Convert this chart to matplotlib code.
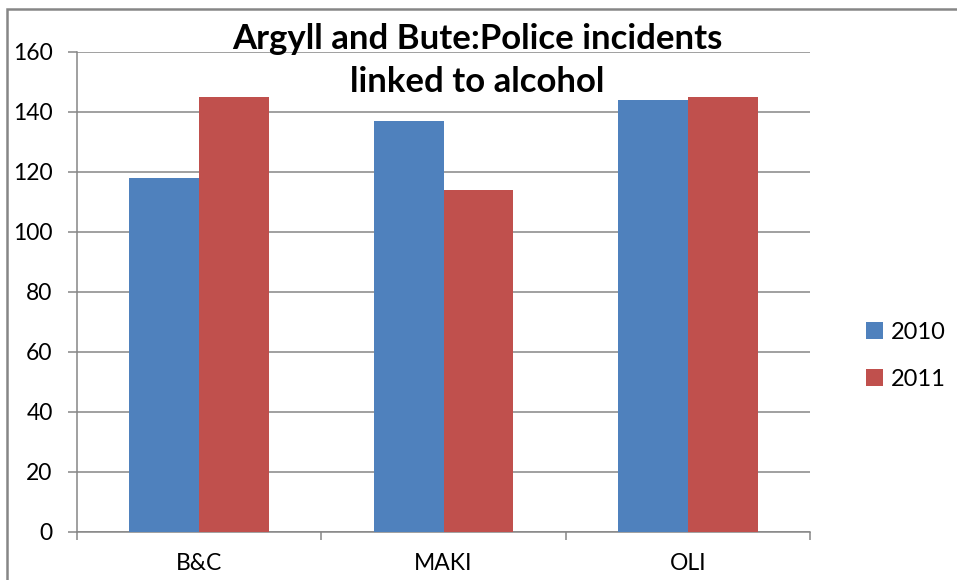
import numpy as np
import matplotlib.pyplot as plt
from matplotlib.patches import Rectangle

# data
areas = ["B&C", "MAKI", "OLI"]
years = ["2010", "2011"]
inc_2010 = [118, 137, 144]
inc_2011 = [145, 114, 145]
colors = ["#4F81BD", "#C0504D"]

plt.rcParams["font.family"] = ["Lato", "DejaVu Sans"]

fig = plt.figure(figsize=(9.57, 5.80), dpi=100)
ax = fig.add_axes([77/957, 1 - 532/580, 733/957, 480/580])

x = np.arange(len(areas))
w = 1 / 3.5
ax.bar(x - w/2, inc_2010, width=w, color=colors[0], label=years[0], zorder=3)
ax.bar(x + w/2, inc_2011, width=w, color=colors[1], label=years[1], zorder=3)

ax.set_xlim(-0.5, 2.5)
ax.set_ylim(0, 160)
ax.set_yticks(range(0, 161, 20))
ax.yaxis.grid(True, color="#868686", linewidth=1.1, zorder=0)

grey = "#868686"
for s in ["top", "right"]:
    ax.spines[s].set_visible(False)
ax.spines["left"].set_color(grey)
ax.spines["bottom"].set_color(grey)
ax.spines["left"].set_linewidth(1.1)
ax.spines["bottom"].set_linewidth(1.1)

ax.set_xticks(x)
ax.set_xticklabels(areas)
ax.set_xticks([-0.5, 0.5, 1.5, 2.5], minor=True)
ax.tick_params(axis="x", which="major", length=0, pad=15, labelsize=16.5)
ax.tick_params(axis="x", which="minor", length=6, width=1.1, color=grey, direction="out")
ax.tick_params(axis="y", length=6.5, width=1.1, color=grey, pad=11, labelsize=16.5)

title_kw = dict(ha="center", va="baseline", fontsize=25, fontweight="bold")
fig.text(477/957, 1 - 49/580, "Argyll and Bute:Police incidents", **title_kw)
fig.text(477/957, 1 - 92/580, "linked to alcohol", **title_kw)

fig.legend(loc="center left", bbox_to_anchor=(866/957, 1 - 356/580), frameon=False,
           fontsize=17, handlelength=0.7, handleheight=0.7, handletextpad=0.35,
           labelspacing=1.1, borderpad=0, borderaxespad=0)

# outer chart border
fig.patches.append(Rectangle((7/957, -0.1), 1.2, 1 - 9/580 + 0.1, transform=fig.transFigure,
                             fill=False, edgecolor=grey, linewidth=1.8))

fig.savefig("out.png", dpi=100)
